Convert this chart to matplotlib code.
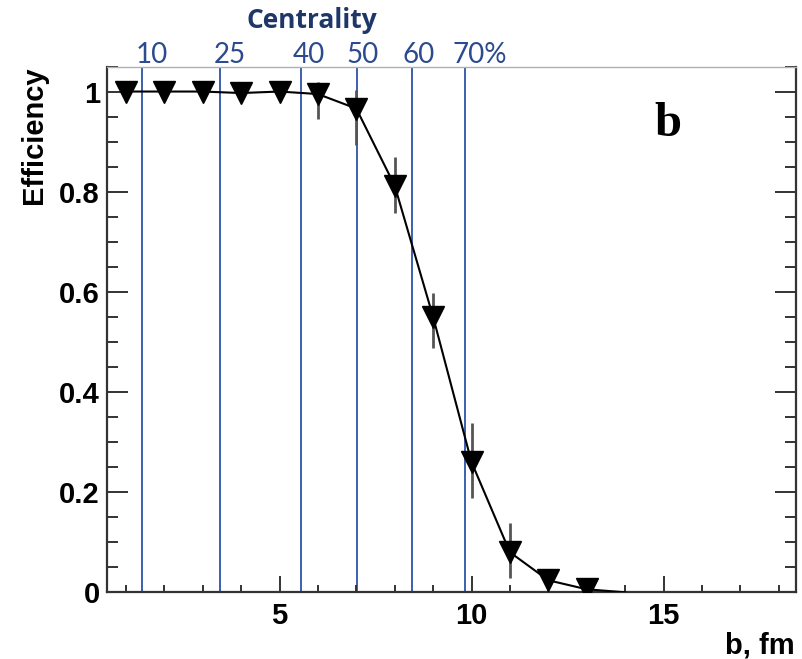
import matplotlib
matplotlib.use("Agg")
import matplotlib.pyplot as plt
from matplotlib.ticker import MultipleLocator, FixedLocator, FixedFormatter
from matplotlib.transforms import blended_transform_factory

# Trigger efficiency versus impact parameter
b_fm = [1, 2, 3, 4, 5, 6, 7, 8, 9, 10, 11, 12, 13]
efficiency = [1.0, 1.0, 1.0, 0.997, 1.0, 0.995, 0.966, 0.812, 0.55, 0.26, 0.08, 0.024, 0.006]
err_low = [0.0, 0.0, 0.0, 0.0, 0.0, 0.05, 0.072, 0.054, 0.062, 0.072, 0.052, 0.015, 0.005]
err_high = [0.0, 0.0, 0.0, 0.0, 0.0, 0.025, 0.038, 0.058, 0.048, 0.078, 0.058, 0.015, 0.005]
# curve continues to zero after the last measured point
tail_b = [14]
tail_eff = [0.0]

# Centrality class boundaries (impact parameter, fm) and their labels
centrality_b = [1.41, 3.46, 5.56, 7.01, 8.46, 9.82]
centrality_labels = ["10", "25", "40", "50", "60", "70%"]
centrality_label_b = [1.68, 3.71, 5.77, 7.17, 8.63, 10.22]

y_ticks = [0, 0.2, 0.4, 0.6, 0.8, 1.0]
y_tick_labels = ["0", "0.2", "0.4", "0.6", "0.8", "1"]
x_ticks = [5, 10, 15]

W, H = 803, 659
fig = plt.figure(figsize=(W / 100, H / 100), dpi=100)
left, right, bottom, top = 106.7, 796.0, 592.3, 66.5
ax = fig.add_axes([left / W, 1 - bottom / H, (right - left) / W, (bottom - top) / H])

arial = "Liberation Sans"
line_blue = "#3d5fae"
label_blue = "#2c4b8e"
title_blue = "#1f3768"

for bv in centrality_b:
    ax.axvline(bv, color=line_blue, lw=1.4, zorder=1)

ax.errorbar(b_fm, efficiency, yerr=[err_low, err_high], fmt="none",
            ecolor="#555555", elinewidth=2.0, capsize=0, zorder=2)
ax.plot(b_fm + tail_b, efficiency + tail_eff, color="black", lw=1.5, zorder=3)
ax.plot(b_fm, efficiency, ls="none", marker="v", ms=16, color="black", zorder=4)

ax.set_xlim(0.5, 18.45)
ax.set_ylim(0, 1.05)

ax.xaxis.set_major_locator(FixedLocator(x_ticks))
ax.xaxis.set_minor_locator(MultipleLocator(1))
ax.yaxis.set_major_locator(FixedLocator(y_ticks))
ax.yaxis.set_major_formatter(FixedFormatter(y_tick_labels))
ax.yaxis.set_minor_locator(MultipleLocator(0.05))

ax.tick_params(axis="y", which="both", direction="in", left=True, right=True,
               color="#333333", width=1.4)
ax.tick_params(axis="y", which="major", length=15, pad=5)
ax.tick_params(axis="y", which="minor", length=8)
ax.tick_params(axis="x", which="both", direction="in", top=False, bottom=True,
               color="#333333", width=1.4)
ax.tick_params(axis="x", which="major", length=11.5, pad=7)
ax.tick_params(axis="x", which="minor", length=5)

for lab in ax.get_xticklabels() + ax.get_yticklabels():
    lab.set_fontfamily(arial)
    lab.set_fontweight("bold")
    lab.set_fontsize(21)
    lab.set_color("black")

for side in ("left", "bottom", "right"):
    ax.spines[side].set_color("#333333")
    ax.spines[side].set_linewidth(1.6)
ax.spines["top"].set_color("#b0b0b0")
ax.spines["top"].set_linewidth(1.0)

# Centrality labels above the frame
trans = blended_transform_factory(ax.transData, fig.transFigure)
for xb, txt in zip(centrality_label_b, centrality_labels):
    fig.text(xb, 1 - 63 / H, txt, transform=trans, ha="center", va="baseline",
             fontsize=20, family="Lato", color=label_blue)
fig.text(312 / W, 1 - 28.5 / H, "Centrality", ha="center", va="baseline",
         fontsize=19, family="Open Sans", fontweight="bold", color=title_blue)

fig.text(34 / W, 1 - 135 / H, "Efficiency", rotation=90, ha="center", va="center",
         fontsize=21, family=arial, fontweight="bold")
fig.text(795 / W, 1 - 653 / H, "b, fm", ha="right", va="baseline",
         fontsize=21, family=arial, fontweight="bold")
fig.text(668 / W, 1 - 136 / H, "b", ha="center", va="baseline",
         fontsize=35, family="Liberation Serif", fontweight="bold")

fig.savefig("out.png", dpi=100)
